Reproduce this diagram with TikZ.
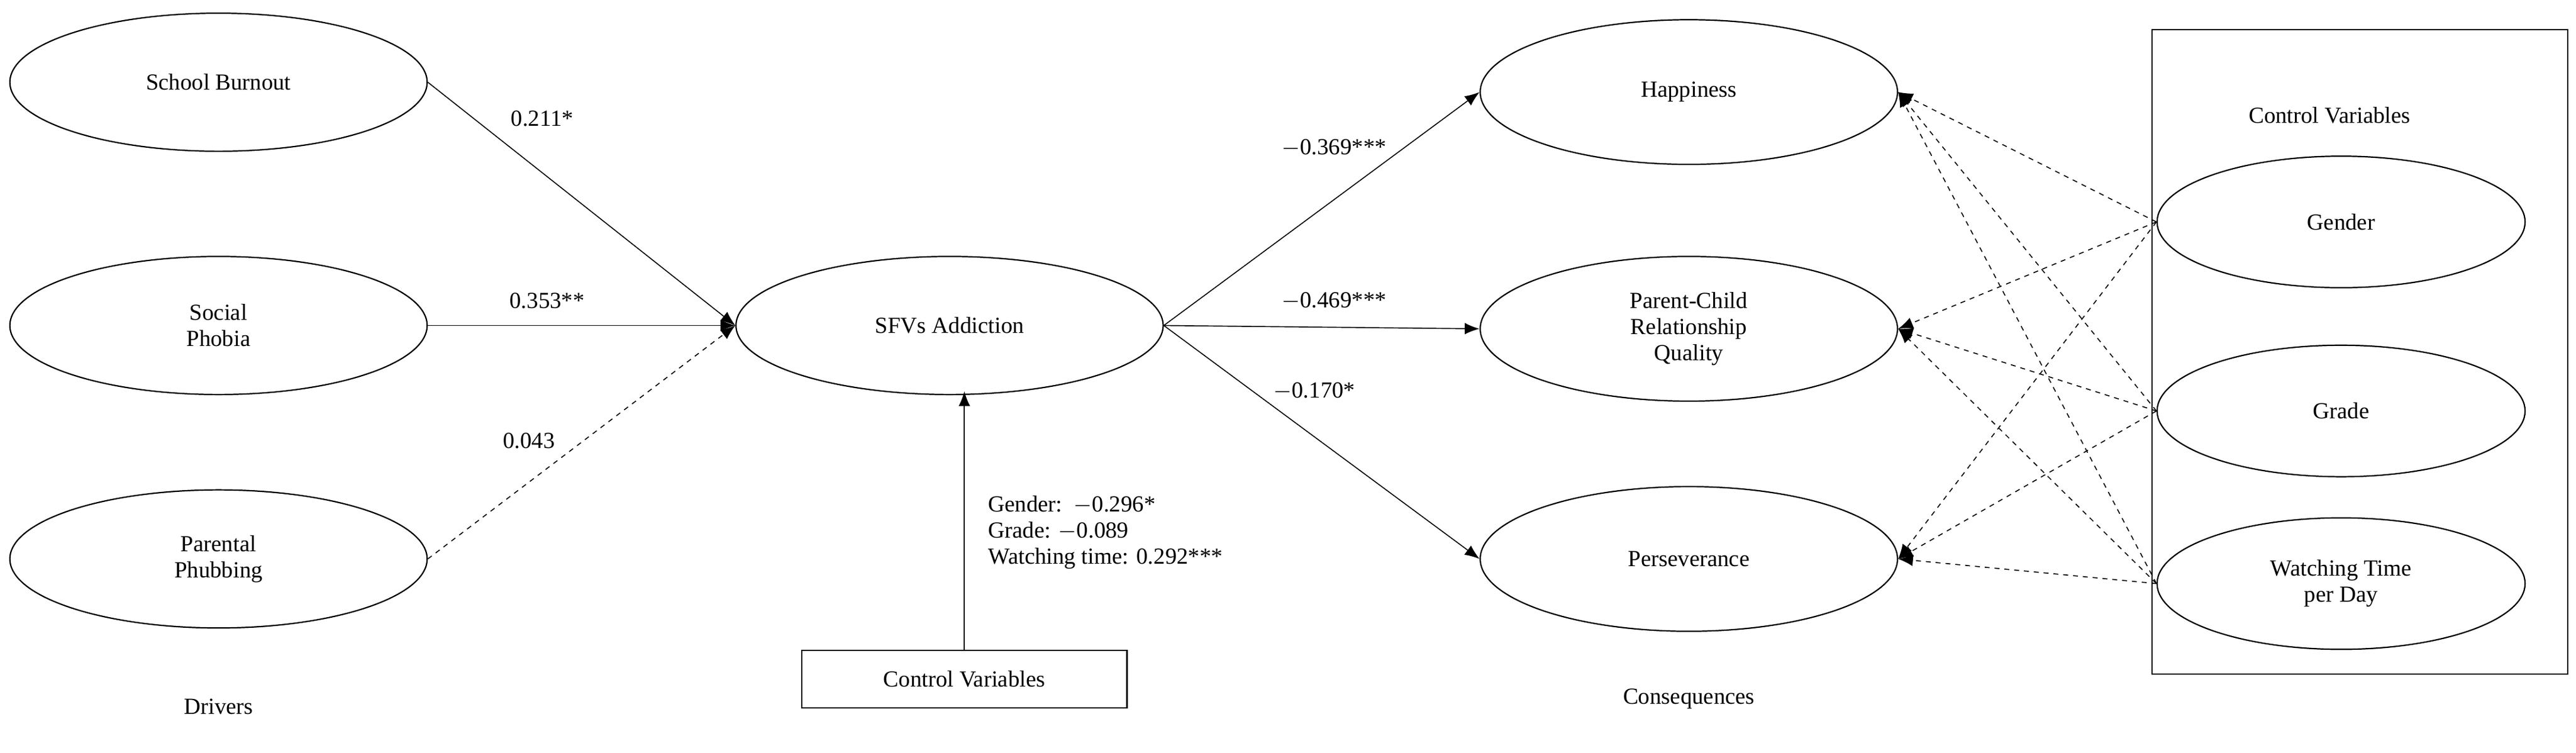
\documentclass[tikz,border=0pt]{standalone}
\usepackage{fontspec}
\setmainfont{Liberation Serif}
\usetikzlibrary{arrows.meta,shapes.geometric}
\begin{document}
\begin{tikzpicture}[x=1pt,y=-1pt,>={Latex[length=9pt,width=7pt]},
  lat/.style={draw,ellipse,line width=0.8pt,minimum width=254pt,minimum height=84pt,align=center,font=\fontsize{14}{16}\selectfont},
  ctl/.style={lat,minimum width=224pt,minimum height=80pt},
  lab/.style={font=\fontsize{14}{16}\selectfont},
  path/.style={->,line width=0.6pt},
  ns/.style={->,dashed,line width=0.6pt}]
\useasboundingbox (0,0) rectangle (1568,458);

% Drivers
\node[lat] (burn) at (133,50) {School Burnout};
\node[lat] (phob) at (133,198) {Social\\Phobia};
\node[lat] (phub) at (133,340) {Parental\\Phubbing};
\node[lab] (drv) at (133,430) {Drivers};

% Mediator
\node[lat,minimum width=260pt] (sfv) at (578,198) {SFVs Addiction};
\node[draw,line width=0.8pt,minimum width=198pt,minimum height=35pt,lab] (cvb) at (587,413) {Control Variables};

% Consequences
\node[lat,minimum height=88pt] (hap) at (1028,56) {Happiness};
\node[lat,minimum height=88pt] (pcr) at (1028,200) {Parent-Child\\Relationship\\Quality};
\node[lat,minimum height=88pt] (per) at (1028,340) {Perseverance};
\node[lab] (csq) at (1028,425) {Consequences};

% Control variables box
\node[draw,line width=0.8pt,minimum width=253pt,minimum height=392pt] (cbox) at (1436.5,214) {};
\node[lab] (cvt) at (1418,70) {Control Variables};
\node[ctl] (gen) at (1425,135) {Gender};
\node[ctl] (gra) at (1425,250) {Grade};
\node[ctl] (wat) at (1425,355) {Watching Time\\per Day};

% Edges: drivers -> SFVs
\draw[path] (burn.east) -- (sfv.west);
\draw[path] (phob.east) -- (sfv.west);
\draw[ns] (phub.east) -- (sfv.west);
\node[lab] (l1) at (330,72) {0.211*};
\node[lab] (l2) at (333,183) {0.353**};
\node[lab] (l3) at (322,268) {0.043};

% Edge: controls -> SFVs
\draw[path] (cvb.north) -- (cvb.north |- 0,238);
\node[lab,align=left,anchor=north west] (cl) at (598,298) {Gender:\ \ $-$0.296*\\Grade: $-$0.089\\Watching time: 0.292***};

% Edges: SFVs -> consequences
\draw[path] (sfv.east) -- (hap.west);
\draw[path] (sfv.east) -- (pcr.west);
\draw[path] (sfv.east) -- (per.west);
\node[lab] (l4) at (812,90) {$-$0.369***};
\node[lab] (l5) at (812,183) {$-$0.469***};
\node[lab] (l6) at (800,238) {$-$0.170*};

% Edges: controls -> consequences
\foreach \c in {gen,gra,wat}
  \foreach \o in {hap,pcr,per}
    \draw[ns] (\c.west) -- (\o.east);
\end{tikzpicture}
\end{document}
